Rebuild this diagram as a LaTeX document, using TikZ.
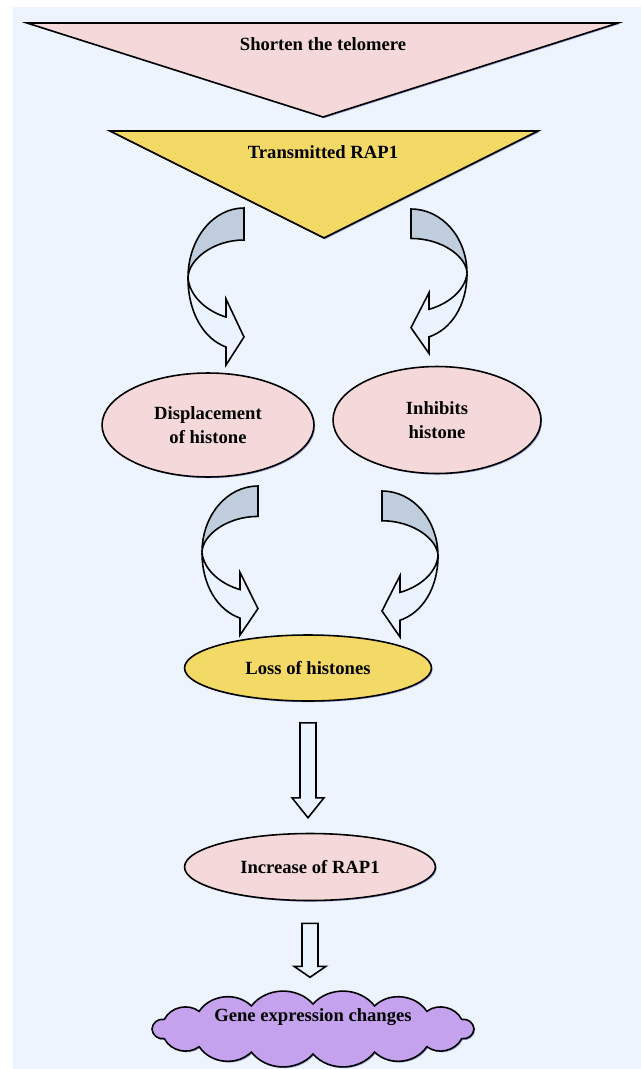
\documentclass[tikz,border=0pt]{standalone}
\usepackage{fontspec}
\setmainfont{Liberation Serif}
\usetikzlibrary{positioning}
\usetikzlibrary{shapes.geometric}
\usetikzlibrary{shadows}
\usetikzlibrary{calc}

\definecolor{bgblue}{HTML}{EDF4FE}
\definecolor{pinkfill}{HTML}{F5D9DA}
\definecolor{yellowfill}{HTML}{F3D966}
\definecolor{lilac}{HTML}{C4A2EE}
\definecolor{backribbon}{HTML}{C0CDDD}
\definecolor{frontribbon}{HTML}{EAF3FE}

\begin{document}
\begin{tikzpicture}[x=0.02cm, y=-0.02cm, line width=0.9pt,
  every node/.style={font=\fontsize{10.6}{13.6}\selectfont\bfseries, align=center},
  myshadow/.style={drop shadow={shadow xshift=0.7pt, shadow yshift=-0.7pt, fill=black!40!blue, opacity=0.35}},
  tri/.style={draw, myshadow},
  oval/.style={ellipse, draw, fill=pinkfill, inner sep=0pt, myshadow},
  ribbon/.pic={
    \filldraw[fill=backribbon] (0,0) .. controls (-31,0) and (-56,31) .. (-56,70)
      .. controls (-56,52) and (-31,32) .. (0,32) -- cycle;
    \filldraw[fill=frontribbon] (-56,70) .. controls (-56,105) and (-40,131) .. (-18,139)
      -- (-18,157) -- (0,129) -- (-18,91) -- (-18,109)
      .. controls (-35,104) and (-54,90) .. (-56,70) -- cycle;
  },
  pics/blockdown/.style 2 args={code={
    \filldraw[fill=frontribbon] (-8,0) -- (8,0) -- (8,#1) -- (16,#1) -- (0,#2)
      -- (-16,#1) -- (-8,#1) -- cycle;
  }}]

  \useasboundingbox (0,0) rectangle (641,1069);
  \fill[white] (0,0) rectangle (641,1069);
  \fill[bgblue] (13,7) rectangle (641,1069);

  % triangles
  \draw[tri, fill=pinkfill] (27,23) -- (618,23) -- (323,117) -- cycle;
  \draw[tri, fill=yellowfill] (110,131) -- (538,131) -- (324,238) -- cycle;
  \node (shorten) at (323,44) {Shorten the telomere};
  \node (rap) at (323,152) {Transmitted RAP1};

  % ellipses
  \node[oval, minimum width=4.24cm, minimum height=2.08cm] (disp) at (208,425) {Displacement\\of histone};
  \node[oval, minimum width=4.16cm, minimum height=2.14cm] (inhib) at (437,420) {Inhibits\\histone};
  \node[oval, fill=yellowfill, minimum width=4.94cm, minimum height=1.32cm] (loss) at (308,668) {Loss of histones};
  \node[oval, minimum width=5.02cm, minimum height=1.34cm] (inc) at (310,867) {Increase of RAP1};

  % cloud
  \coordinate (cloudc) at (313,1029);
  \filldraw[fill=lilac, myshadow] ($(cloudc)+(0:161 and 25)$)
    \foreach \a in {22.5,45,...,360} { to[bend left=50] ($(cloudc)+(\a:161 and 25)$) } -- cycle;
  \node (gene) at (313,1017) {Gene expression changes};

  % curved arrows
  \pic at (244,208) {ribbon};
  \pic[xscale=-1, yscale=0.92] at (411,209) {ribbon};
  \pic[yscale=0.95] at (258,486) {ribbon};
  \pic[xscale=-1, yscale=0.93] at (382,491) {ribbon};

  % straight arrows
  \pic at ($(loss.south)+(0,21)$) {blockdown={75}{95}};
  \pic at ($(inc.south)+(0,22)$) {blockdown={43}{54}};
\end{tikzpicture}
\end{document}
